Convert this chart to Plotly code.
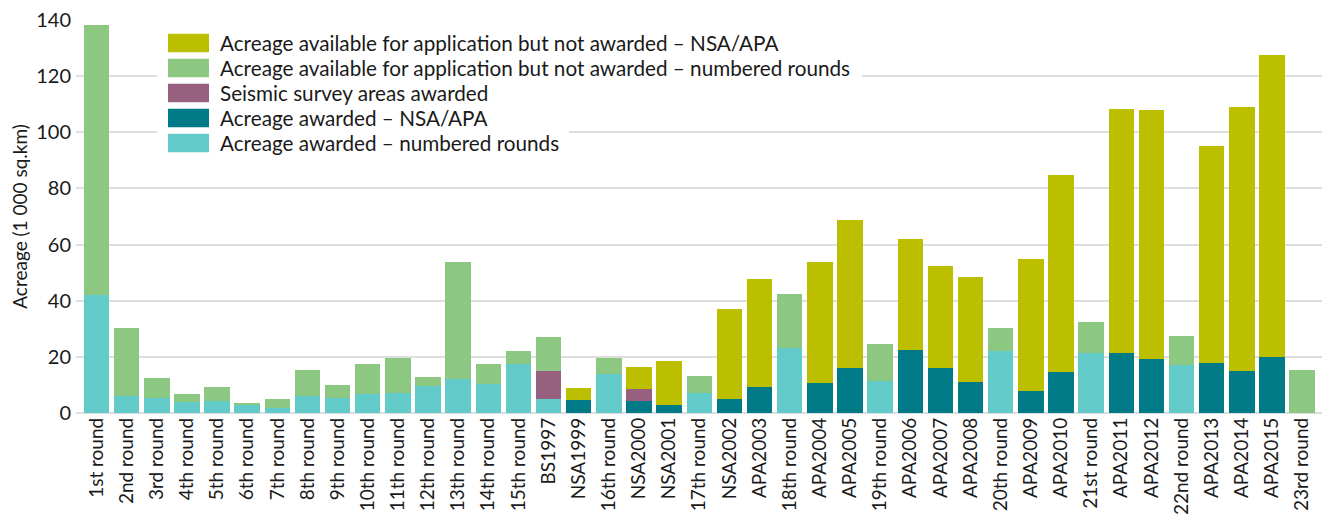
import plotly.graph_objects as go

categories = ["1st round", "2nd round", "3rd round", "4th round", "5th round", "6th round",
              "7th round", "8th round", "9th round", "10th round", "11th round", "12th round",
              "13th round", "14th round", "15th round", "BS1997", "NSA1999", "16th round",
              "NSA2000", "NSA2001", "17th round", "NSA2002", "APA2003", "18th round",
              "APA2004", "APA2005", "19th round", "APA2006", "APA2007", "APA2008",
              "20th round", "APA2009", "APA2010", "21st round", "APA2011", "APA2012",
              "22nd round", "APA2013", "APA2014", "APA2015", "23rd round"]

awarded_numbered = [42.0, 6.1, 5.4, 3.9, 4.2, 3.2, 1.7, 6.2, 5.4, 6.8, 7.0, 9.6,
                    12.0, 10.4, 17.5, 4.9, 0, 13.8, 0, 0, 7.0, 0, 0, 23.1,
                    0, 0, 11.3, 0, 0, 0, 22.0, 0, 0, 21.3, 0, 0, 17.0, 0, 0, 0, 0]

awarded_nsa_apa = [0, 0, 0, 0, 0, 0, 0, 0, 0, 0, 0, 0,
                   0, 0, 0, 0, 4.5, 0, 4.2, 2.8, 0, 4.9, 9.2, 0,
                   10.8, 16.1, 0, 22.3, 16.2, 11.0, 0, 8.0, 14.5, 0, 21.2, 19.1,
                   0, 17.9, 14.9, 20.0, 0]

seismic = [0, 0, 0, 0, 0, 0, 0, 0, 0, 0, 0, 0,
           0, 0, 0, 10.0, 0, 0, 4.3, 0, 0, 0, 0, 0,
           0, 0, 0, 0, 0, 0, 0, 0, 0, 0, 0, 0, 0, 0, 0, 0, 0]

not_awarded_numbered = [96.1, 24.1, 7.0, 2.8, 5.0, 0.3, 3.2, 9.1, 4.5, 10.6, 12.5, 3.2,
                        41.8, 7.0, 4.5, 12.1, 0, 5.7, 0, 0, 6.1, 0, 0, 19.3,
                        0, 0, 13.2, 0, 0, 0, 8.2, 0, 0, 11.1, 0, 0, 10.4, 0, 0, 0, 15.3]

not_awarded_nsa_apa = [0, 0, 0, 0, 0, 0, 0, 0, 0, 0, 0, 0,
                       0, 0, 0, 0, 4.3, 0, 7.8, 15.7, 0, 32.1, 38.5, 0,
                       42.9, 52.7, 0, 39.7, 36.1, 37.5, 0, 46.8, 70.4, 0, 87.2, 88.9,
                       0, 77.3, 94.2, 107.4, 0]

series = [
    ("Acreage awarded – numbered rounds", awarded_numbered, "#62CAC8"),
    ("Acreage awarded – NSA/APA", awarded_nsa_apa, "#017A88"),
    ("Seismic survey areas awarded", seismic, "#98607F"),
    ("Acreage available for application but not awarded – numbered rounds", not_awarded_numbered, "#8DC882"),
    ("Acreage available for application but not awarded – NSA/APA", not_awarded_nsa_apa, "#BCBE00"),
]

legend_order = [4, 3, 2, 1, 0]
legend_text_end = [771, 852, 486, 477, 559]  # approximate pixel extent of each legend row

FONT = "Lato, 'Noto Sans', sans-serif"
W, H = 1332, 517
ML, MR, MT, MB = 76, 10, 20, 104
PW, PH = W - ML - MR, H - MT - MB


def px(xp):
    return (xp - ML) / PW


def py(yp):
    return (H - MB - yp) / PH


fig = go.Figure()
for name, vals, color in series:
    fig.add_trace(go.Bar(x=categories, y=vals, name=name, marker_color=color,
                         marker_line_width=0, showlegend=False))

shapes = []
annotations = []
for i, idx in enumerate(legend_order):
    name, _, color = series[idx]
    cy = 43 + 25 * i
    shapes.append(dict(type="rect", xref="paper", yref="paper", layer="above",
                       x0=px(157), x1=px(legend_text_end[i] + 10),
                       y0=py(cy + 12.5), y1=py(cy - 12.5),
                       fillcolor="white", line_width=0))
    shapes.append(dict(type="rect", xref="paper", yref="paper", layer="above",
                       x0=px(168), x1=px(209), y0=py(cy + 9.3), y1=py(cy - 9.3),
                       fillcolor=color, line_width=0))
    annotations.append(dict(xref="paper", yref="paper", x=px(218), y=py(cy),
                            xanchor="left", yanchor="middle", showarrow=False,
                            text=name, font=dict(family=FONT, size=20.7, color="#1a1a1a")))

fig.update_layout(
    barmode="stack",
    bargap=0.155,
    width=W, height=H,
    margin=dict(l=ML, r=MR, t=MT, b=MB, autoexpand=False),
    plot_bgcolor="white", paper_bgcolor="white",
    font=dict(family=FONT, size=19, color="#1a1a1a"),
    shapes=shapes,
    annotations=annotations,
    showlegend=False,
)
fig.update_xaxes(range=[-0.68, 40.66], tickangle=-90, showgrid=False, showline=False,
                 ticks="", tickfont=dict(size=19), automargin=False)
fig.update_yaxes(range=[0, 140], dtick=20, showgrid=True, gridcolor="#dedede", gridwidth=2,
                 zeroline=True, zerolinecolor="#dedede", zerolinewidth=2, showline=False,
                 ticks="", ticklabelstandoff=4, tickfont=dict(size=20), automargin=False,
                 title=dict(text="Acreage (1 000 sq.km)", font=dict(size=19), standoff=3))

fig.write_html("out.html", config={"displayModeBar": False},
               post_script="document.body.style.margin='0';document.body.style.padding='0';")
